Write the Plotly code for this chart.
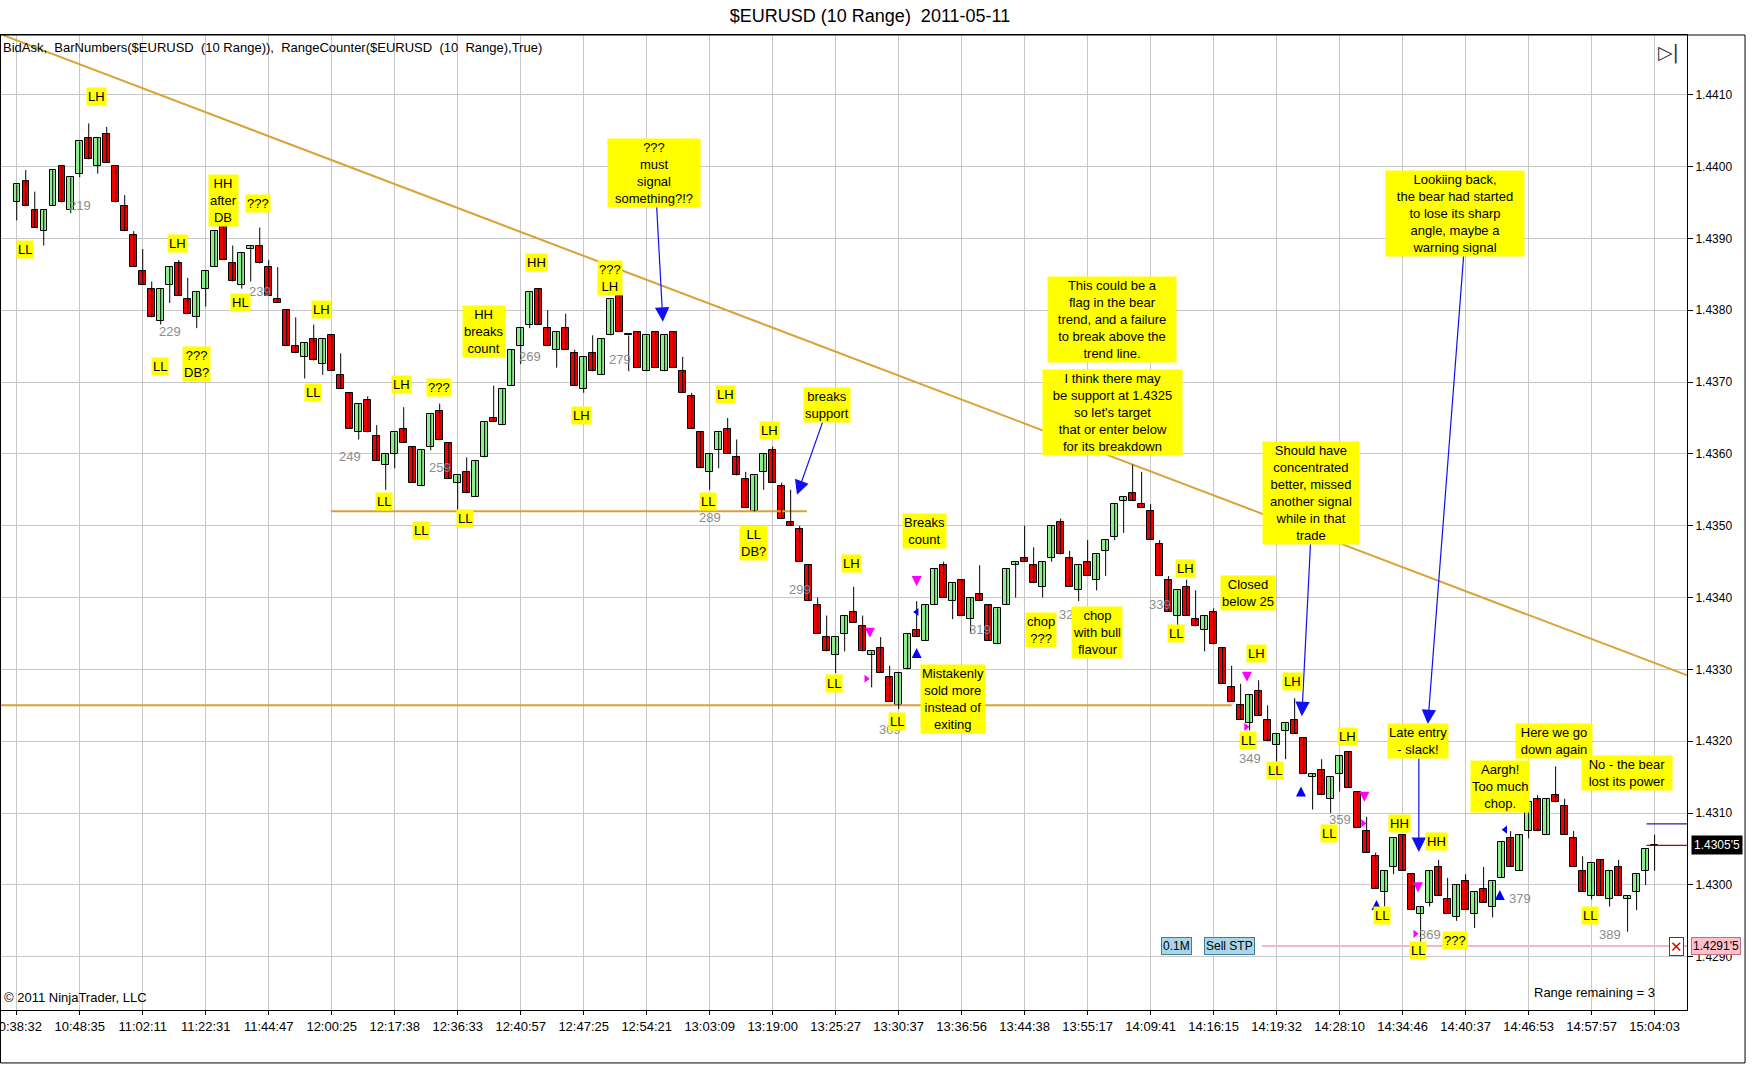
import plotly.graph_objects as go

# Data: 10-tick range bars, bar numbers 212..394
first_bar = 212
opens = [
    1.43950, 1.43980, 1.43940, 1.43910, 1.43945, 1.44000, 1.43940, 1.43990, 1.44040, 1.44000,
    1.44045, 1.44000, 1.43945, 1.43905, 1.43855, 1.43830, 1.43785, 1.43835, 1.43865, 1.43815,
    1.43790, 1.43830, 1.43860, 1.43920, 1.43865, 1.43835, 1.43885, 1.43890, 1.43860, 1.43815,
    1.43800, 1.43750, 1.43735, 1.43760, 1.43725, 1.43765, 1.43710, 1.43685, 1.43630, 1.43675,
    1.43625, 1.43585, 1.43600, 1.43635, 1.43610, 1.43555, 1.43610, 1.43660, 1.43615, 1.43560,
    1.43575, 1.43540, 1.43595, 1.43650, 1.43640, 1.43695, 1.43750, 1.43780, 1.43830, 1.43775,
    1.43745, 1.43775, 1.43740, 1.43690, 1.43740, 1.43710, 1.43765, 1.43820, 1.43765, 1.43770,
    1.43715, 1.43770, 1.43715, 1.43770, 1.43715, 1.43680, 1.43630, 1.43575, 1.43605, 1.43635,
    1.43595, 1.43565, 1.43520, 1.43575, 1.43605, 1.43555, 1.43505, 1.43495, 1.43445, 1.43390,
    1.43345, 1.43320, 1.43350, 1.43380, 1.43360, 1.43320, 1.43330, 1.43290, 1.43250, 1.43300,
    1.43355, 1.43340, 1.43390, 1.43445, 1.43395, 1.43425, 1.43370, 1.43405, 1.43390, 1.43335,
    1.43390, 1.43445, 1.43455, 1.43445, 1.43415, 1.43455, 1.43505, 1.43455, 1.43410, 1.43450,
    1.43425, 1.43465, 1.43485, 1.43535, 1.43545, 1.43530, 1.43520, 1.43475, 1.43425, 1.43375,
    1.43415, 1.43370, 1.43355, 1.43380, 1.43330, 1.43275, 1.43250, 1.43225, 1.43270, 1.43230,
    1.43195, 1.43215, 1.43230, 1.43205, 1.43150, 1.43160, 1.43120, 1.43155, 1.43185, 1.43130,
    1.43075, 1.43040, 1.42990, 1.43025, 1.43070, 1.43015, 1.42960, 1.42975, 1.43025, 1.42980,
    1.42955, 1.43005, 1.42960, 1.42995, 1.42970, 1.43010, 1.43065, 1.43020, 1.43075, 1.43120,
    1.43070, 1.43125, 1.43110, 1.43065, 1.43020, 1.42985, 1.43035, 1.42980, 1.43025, 1.42980,
    1.42990, 1.43020, 1.43055,
]
highs = [
    1.43975, 1.43995, 1.43965, 1.43940, 1.43995, 1.44000, 1.43985, 1.44035, 1.44060, 1.44040,
    1.44055, 1.44000, 1.43960, 1.43910, 1.43885, 1.43840, 1.43830, 1.43860, 1.43870, 1.43845,
    1.43825, 1.43855, 1.43910, 1.43920, 1.43890, 1.43880, 1.43890, 1.43915, 1.43870, 1.43860,
    1.43800, 1.43790, 1.43755, 1.43780, 1.43760, 1.43765, 1.43740, 1.43685, 1.43670, 1.43680,
    1.43640, 1.43600, 1.43630, 1.43665, 1.43610, 1.43605, 1.43655, 1.43670, 1.43615, 1.43570,
    1.43595, 1.43590, 1.43645, 1.43695, 1.43690, 1.43745, 1.43775, 1.43825, 1.43830, 1.43800,
    1.43770, 1.43795, 1.43745, 1.43735, 1.43765, 1.43760, 1.43815, 1.43820, 1.43765, 1.43770,
    1.43765, 1.43770, 1.43765, 1.43770, 1.43735, 1.43685, 1.43630, 1.43600, 1.43630, 1.43650,
    1.43620, 1.43575, 1.43570, 1.43600, 1.43610, 1.43560, 1.43550, 1.43500, 1.43445, 1.43400,
    1.43375, 1.43345, 1.43375, 1.43415, 1.43375, 1.43325, 1.43345, 1.43305, 1.43295, 1.43350,
    1.43395, 1.43390, 1.43440, 1.43450, 1.43420, 1.43425, 1.43400, 1.43445, 1.43390, 1.43385,
    1.43440, 1.43450, 1.43500, 1.43470, 1.43450, 1.43500, 1.43510, 1.43465, 1.43445, 1.43480,
    1.43460, 1.43480, 1.43530, 1.43540, 1.43585, 1.43575, 1.43530, 1.43480, 1.43430, 1.43410,
    1.43425, 1.43410, 1.43375, 1.43385, 1.43330, 1.43305, 1.43280, 1.43265, 1.43285, 1.43250,
    1.43210, 1.43225, 1.43260, 1.43205, 1.43155, 1.43175, 1.43150, 1.43180, 1.43185, 1.43130,
    1.43095, 1.43045, 1.43020, 1.43065, 1.43070, 1.43015, 1.42970, 1.43020, 1.43035, 1.43010,
    1.43000, 1.43015, 1.42990, 1.43025, 1.43005, 1.43060, 1.43075, 1.43070, 1.43115, 1.43125,
    1.43120, 1.43165, 1.43120, 1.43075, 1.43040, 1.43030, 1.43035, 1.43020, 1.43035, 1.42985,
    1.43015, 1.43050, 1.43070,
]
lows = [
    1.43925, 1.43945, 1.43915, 1.43890, 1.43945, 1.43950, 1.43935, 1.43985, 1.44010, 1.43990,
    1.44005, 1.43950, 1.43910, 1.43860, 1.43835, 1.43790, 1.43780, 1.43810, 1.43820, 1.43795,
    1.43775, 1.43805, 1.43860, 1.43870, 1.43840, 1.43830, 1.43840, 1.43865, 1.43820, 1.43810,
    1.43750, 1.43740, 1.43705, 1.43730, 1.43710, 1.43715, 1.43690, 1.43635, 1.43620, 1.43630,
    1.43590, 1.43550, 1.43580, 1.43615, 1.43560, 1.43555, 1.43605, 1.43620, 1.43565, 1.43520,
    1.43545, 1.43540, 1.43595, 1.43645, 1.43640, 1.43695, 1.43725, 1.43775, 1.43780, 1.43750,
    1.43720, 1.43745, 1.43695, 1.43685, 1.43715, 1.43710, 1.43765, 1.43770, 1.43715, 1.43720,
    1.43715, 1.43720, 1.43715, 1.43720, 1.43685, 1.43635, 1.43580, 1.43550, 1.43580, 1.43600,
    1.43570, 1.43525, 1.43520, 1.43550, 1.43560, 1.43510, 1.43500, 1.43450, 1.43395, 1.43350,
    1.43325, 1.43295, 1.43325, 1.43365, 1.43325, 1.43275, 1.43295, 1.43255, 1.43245, 1.43300,
    1.43345, 1.43340, 1.43390, 1.43400, 1.43370, 1.43375, 1.43350, 1.43395, 1.43340, 1.43335,
    1.43390, 1.43400, 1.43450, 1.43420, 1.43400, 1.43450, 1.43460, 1.43415, 1.43395, 1.43430,
    1.43410, 1.43430, 1.43480, 1.43490, 1.43535, 1.43525, 1.43480, 1.43430, 1.43380, 1.43360,
    1.43375, 1.43360, 1.43325, 1.43335, 1.43280, 1.43255, 1.43230, 1.43215, 1.43235, 1.43200,
    1.43160, 1.43175, 1.43210, 1.43155, 1.43105, 1.43125, 1.43100, 1.43130, 1.43135, 1.43080,
    1.43045, 1.42995, 1.42970, 1.43015, 1.43020, 1.42965, 1.42920, 1.42970, 1.42985, 1.42960,
    1.42950, 1.42965, 1.42940, 1.42975, 1.42955, 1.43010, 1.43025, 1.43020, 1.43065, 1.43075,
    1.43070, 1.43115, 1.43070, 1.43025, 1.42990, 1.42980, 1.42985, 1.42970, 1.42985, 1.42935,
    1.42965, 1.43000, 1.43020,
]
closes = [
    1.43975, 1.43945, 1.43915, 1.43940, 1.43995, 1.43950, 1.43985, 1.44035, 1.44010, 1.44040,
    1.44005, 1.43950, 1.43910, 1.43860, 1.43835, 1.43790, 1.43830, 1.43860, 1.43820, 1.43795,
    1.43825, 1.43855, 1.43910, 1.43870, 1.43840, 1.43880, 1.43890, 1.43865, 1.43820, 1.43810,
    1.43750, 1.43740, 1.43755, 1.43730, 1.43760, 1.43715, 1.43690, 1.43635, 1.43670, 1.43630,
    1.43590, 1.43600, 1.43630, 1.43615, 1.43560, 1.43605, 1.43655, 1.43620, 1.43565, 1.43570,
    1.43545, 1.43590, 1.43645, 1.43645, 1.43690, 1.43745, 1.43775, 1.43825, 1.43780, 1.43750,
    1.43770, 1.43745, 1.43695, 1.43735, 1.43715, 1.43760, 1.43815, 1.43770, 1.43765, 1.43720,
    1.43765, 1.43720, 1.43765, 1.43720, 1.43685, 1.43635, 1.43580, 1.43600, 1.43630, 1.43600,
    1.43570, 1.43525, 1.43570, 1.43600, 1.43560, 1.43510, 1.43500, 1.43450, 1.43395, 1.43350,
    1.43325, 1.43345, 1.43375, 1.43365, 1.43325, 1.43325, 1.43295, 1.43255, 1.43295, 1.43350,
    1.43345, 1.43390, 1.43440, 1.43400, 1.43420, 1.43375, 1.43400, 1.43395, 1.43340, 1.43385,
    1.43440, 1.43450, 1.43450, 1.43420, 1.43450, 1.43500, 1.43460, 1.43415, 1.43445, 1.43430,
    1.43460, 1.43480, 1.43530, 1.43540, 1.43535, 1.43525, 1.43480, 1.43430, 1.43380, 1.43410,
    1.43375, 1.43360, 1.43375, 1.43335, 1.43280, 1.43255, 1.43230, 1.43265, 1.43235, 1.43200,
    1.43210, 1.43225, 1.43210, 1.43155, 1.43155, 1.43125, 1.43150, 1.43180, 1.43135, 1.43080,
    1.43045, 1.42995, 1.43020, 1.43065, 1.43020, 1.42965, 1.42970, 1.43020, 1.42985, 1.42960,
    1.43000, 1.42965, 1.42990, 1.42975, 1.43005, 1.43060, 1.43025, 1.43070, 1.43115, 1.43075,
    1.43120, 1.43115, 1.43070, 1.43025, 1.42990, 1.43030, 1.42985, 1.43020, 1.42985, 1.42985,
    1.43015, 1.43050, 1.43055,
]

time_labels = ['10:38:32', '10:48:35', '11:02:11', '11:22:31', '11:44:47', '12:00:25',
               '12:17:38', '12:36:33', '12:40:57', '12:47:25', '12:54:21', '13:03:09',
               '13:19:00', '13:25:27', '13:30:37', '13:36:56', '13:44:38', '13:55:17',
               '14:09:41', '14:16:15', '14:19:32', '14:28:10', '14:34:46', '14:40:37',
               '14:46:53', '14:57:57', '15:04:03']
numbered_bars = [219, 229, 239, 249, 259, 269, 279, 289, 299, 309, 319, 329, 339, 349, 359, 369, 379, 389]

# drawn lines (bar, price)
trend_x = [210.0, 398.0]
trend_y = [1.44185, 1.43290]
support1_x = [246.9, 299.8]
support1_y = [1.43520, 1.43520]
support2_x = [210.0, 347.0]
support2_y = [1.43250, 1.43250]
stop_price = 1.42915
last_price = 1.43055
upper_price = 1.43085

# yellow chart notes (text, bar, price)
notes = [
    ("LH", 220.9, 1.44097), ("LL", 212.9, 1.43884), ("HH<br>after<br>DB", 235.0, 1.43952),
    ("???", 238.8, 1.43949), ("LH", 229.9, 1.43893), ("HL", 236.9, 1.43811),
    ("LL", 227.9, 1.43722), ("???<br>DB?", 232.0, 1.43725), ("LH", 245.9, 1.43801),
    ("LL", 244.9, 1.43685), ("LH", 254.8, 1.43696), ("???", 258.9, 1.43693),
    ("LL", 252.8, 1.43534), ("LL", 256.9, 1.43493), ("LL", 261.8, 1.43510),
    ("HH<br>breaks<br>count", 263.9, 1.43770), ("HH", 269.8, 1.43867), ("???<br>LH", 277.9, 1.43845),
    ("LH", 274.8, 1.43654), ("LH", 290.8, 1.43683), ("LL", 288.8, 1.43534),
    ("LH", 295.7, 1.43632), ("LL<br>DB?", 293.9, 1.43476), ("Breaks<br>count", 312.9, 1.43492),
    ("LH", 304.8, 1.43447), ("LL", 302.8, 1.43280), ("LL", 309.8, 1.43228),
    ("Mistakenly<br>sold more<br>instead of<br>exiting", 316.0, 1.43259),
    ("chop<br>???", 325.8, 1.43355), ("chop<br>with bull<br>flavour", 332.0, 1.43352),
    ("This could be a<br>flag in the bear<br>trend, and a failure<br>to break above the<br>trend line.", 333.7, 1.43787),
    ("I think there may<br>be support at 1.4325<br>so let's target<br>that or enter below<br>for its breakdown", 333.8, 1.43658),
    ("LH", 341.9, 1.43441), ("LL", 340.8, 1.43350), ("Closed<br>below 25", 348.8, 1.43406),
    ("LH", 349.8, 1.43322), ("LH", 353.8, 1.43283), ("LL", 348.8, 1.43201),
    ("LL", 351.8, 1.43159), ("LH", 359.9, 1.43207), ("LL", 357.8, 1.43071),
    ("HH", 365.7, 1.43086), ("HH", 369.8, 1.43060), ("LL", 363.7, 1.42957),
    ("LL", 367.7, 1.42909), ("???", 371.8, 1.42923), ("Aargh!<br>Too much<br>chop.", 376.8, 1.43137),
    ("Here we go<br>down again", 382.8, 1.43201), ("No - the bear<br>lost its power", 390.9, 1.43156),
    ("LL", 386.8, 1.42957),
]
# notes with a blue arrow: (text, bar, price, tail bar, tail price, tip bar, tip price)
arrow_notes = [
    ("???<br>must<br>signal<br>something?!?", 282.8, 1.43991, 283.1, 1.43946, 283.8, 1.43784),
    ("breaks<br>support", 302.0, 1.43668, 301.6, 1.43646, 298.7, 1.43543),
    ("Should have<br>concentrated<br>better, missed<br>another signal<br>while in that<br>trade", 355.8, 1.43545, 355.8, 1.43484, 354.8, 1.43235),
    ("Lookiing back,<br>the bear had started<br>to lose its sharp<br>angle, maybe a<br>warning signal", 371.8, 1.43934, 372.8, 1.43879, 368.8, 1.43224),
    ("Late entry<br>- slack!", 367.7, 1.43200, 367.8, 1.43178, 367.8, 1.43046),
]
# fixed box widths of the wider notes (px)
note_widths = {
    "This could be a": 126, "I think there may": 137, "Lookiing back,": 136,
    "???<br>must": 90, "Should have": 94, "No - the bear": 88, "Here we go": 74,
}

# execution markers
sell_x = [306.8, 312.0, 348.7, 361.75, 367.7]
sell_y = [1.43344, 1.43416, 1.43283, 1.43116, 1.42990]
buy_x = [312.0, 354.7, 363.1, 376.8]
buy_y = [1.43330, 1.43137, 1.42979, 1.42993]
exit_x = [312.0, 377.4]
exit_y = [1.43380, 1.43077]
fill_x = [306.4, 348.6, 361.6, 367.4]
fill_y = [1.43287, 1.43220, 1.43086, 1.42932]

FONT = 'Liberation Sans, Arial, sans-serif'
bars = list(range(first_bar, first_bar + len(opens)))
x_lo, x_hi = 210.14, 397.6

# Candles
wick_x, wick_y = [], []
for b, h, l in zip(bars, highs, lows):
    wick_x += [b, b, None]
    wick_y += [l, h, None]

body_base = [min(o, c) for o, c in zip(opens, closes)]
body_h = [max(abs(c - o), 0.000012) for o, c in zip(opens, closes)]
body_col = ['#90EE90' if c > o else ('#EE0000' if c < o else '#000000') for o, c in zip(opens, closes)]

fig = go.Figure()

for lx, ly in [(trend_x, trend_y), (support1_x, support1_y), (support2_x, support2_y)]:
    fig.add_trace(go.Scatter(x=lx, y=ly, mode='lines', line=dict(color='#D8A236', width=2),
                             hoverinfo='skip', showlegend=False))
fig.add_trace(go.Scatter(x=[350.4, x_hi], y=[stop_price, stop_price], mode='lines',
                         line=dict(color='#F4B8C4', width=2), hoverinfo='skip', showlegend=False))
fig.add_trace(go.Scatter(x=[393.1, x_hi], y=[upper_price, upper_price], mode='lines',
                         line=dict(color='#2020B0', width=1.2), hoverinfo='skip', showlegend=False))
fig.add_trace(go.Scatter(x=[393.1, x_hi], y=[last_price, last_price], mode='lines',
                         line=dict(color='#C00000', width=1.2), hoverinfo='skip', showlegend=False))

fig.add_trace(go.Scatter(x=wick_x, y=wick_y, mode='lines', line=dict(color='black', width=1),
                         hoverinfo='skip', showlegend=False))
fig.add_trace(go.Bar(x=bars, y=body_h, base=body_base, width=0.72,
                     marker=dict(color=body_col, line=dict(color='black', width=1)),
                     showlegend=False))

fig.add_trace(go.Scatter(x=sell_x, y=sell_y, mode='markers', showlegend=False,
                         marker=dict(symbol='arrow-down', size=10, color='#FF00FF')))
fig.add_trace(go.Scatter(x=buy_x, y=buy_y, mode='markers', showlegend=False,
                         marker=dict(symbol='arrow-up', size=10, color='#0000FF')))
fig.add_trace(go.Scatter(x=exit_x, y=exit_y, mode='markers', showlegend=False,
                         marker=dict(symbol='triangle-left', size=7, color='#0000FF')))
fig.add_trace(go.Scatter(x=fill_x, y=fill_y, mode='markers', showlegend=False,
                         marker=dict(symbol='triangle-right', size=7, color='#FF00FF')))

ann = []
# bar numbers
for n in numbered_bars:
    ann.append(dict(x=n, y=lows[n - first_bar], text=str(n), showarrow=False, yshift=-28,
                    font=dict(family=FONT, size=13, color='#8C8C8C')))
# arrows first so the notes sit on top
for t, bx, by, tx, ty, hx, hy in arrow_notes:
    ann.append(dict(x=hx, y=hy, ax=tx, ay=ty, axref='x', ayref='y', text='', showarrow=True,
                    arrowhead=2, arrowsize=2.4, arrowwidth=1.2, arrowcolor='#1010F0'))
for t, bx, by in notes + [(a[0], a[1], a[2]) for a in arrow_notes]:
    a = dict(x=bx, y=by, text=t, showarrow=False, bgcolor='#FFFF00', borderpad=1,
             font=dict(family=FONT, size=13, color='black'))
    for key, w in note_widths.items():
        if t.startswith(key):
            a['width'] = w
    ann.append(a)

# chart trader order tags
ann.append(dict(x=340.9, y=stop_price, text='0.1M', showarrow=False, bgcolor='#A9D6E8',
                bordercolor='#4A7A90', borderwidth=1, borderpad=1,
                font=dict(family=FONT, size=12, color='black')))
ann.append(dict(x=346.8, y=stop_price, text='Sell STP', showarrow=False, bgcolor='#A9D6E8',
                bordercolor='#4A7A90', borderwidth=1, borderpad=1,
                font=dict(family=FONT, size=12, color='black')))
ann.append(dict(x=1, xref='paper', y=stop_price, xanchor='right', xshift=-3, text='✕',
                showarrow=False, bgcolor='white', bordercolor='#E00000', borderwidth=1, borderpad=0,
                font=dict(family=FONT, size=15, color='#E00000')))
# right axis tags
ann.append(dict(x=1, xref='paper', y=last_price, xanchor='left', xshift=4, text="1.4305'5",
                showarrow=False, bgcolor='black', borderpad=2,
                font=dict(family=FONT, size=12, color='white')))
ann.append(dict(x=1, xref='paper', y=stop_price, xanchor='left', xshift=4, text="1.4291'5",
                showarrow=False, bgcolor='#FFC0CB', bordercolor='#C07080', borderwidth=1, borderpad=1,
                font=dict(family=FONT, size=12, color='black')))
# panel texts
ann.append(dict(x=0, xref='paper', y=1, yref='paper', xanchor='left', yanchor='top', xshift=1, yshift=-3,
                text='BidAsk,  BarNumbers($EURUSD  (10 Range)),  RangeCounter($EURUSD  (10  Range),True)',
                showarrow=False, font=dict(family=FONT, size=13, color='black')))
ann.append(dict(x=0, xref='paper', y=0, yref='paper', xanchor='left', yanchor='bottom', xshift=2, yshift=3,
                text='© 2011 NinjaTrader, LLC', showarrow=False,
                font=dict(family=FONT, size=13, color='black')))
ann.append(dict(x=1, xref='paper', y=0, yref='paper', xanchor='right', yanchor='bottom', xshift=-30, yshift=8,
                text='Range remaining = 3', showarrow=False,
                font=dict(family=FONT, size=13, color='black')))
ann.append(dict(x=1, xref='paper', y=1, yref='paper', xanchor='right', yanchor='top', xshift=-6, yshift=-4,
                text='▷|', showarrow=False, font=dict(family='DejaVu Sans', size=19, color='#333333')))

fig.update_layout(
    width=1752, height=1065,
    title=dict(text='$EURUSD (10 Range)  2011-05-11', x=0.4966, xref='container', y=0.985,
               yanchor='middle', font=dict(family=FONT, size=18, color='black')),
    margin=dict(l=0, r=65, t=35, b=55, autoexpand=False),
    plot_bgcolor='white', paper_bgcolor='white',
    barmode='overlay', bargap=0, showlegend=False, hovermode=False,
    annotations=ann,
    # outer panel frame around plot and price scale
    shapes=[dict(type='rect', xref='paper', yref='paper', x0=0.0003, x1=1.0344, y0=-0.0543, y1=1,
                 line=dict(color='black', width=1))],
    xaxis=dict(range=[x_lo, x_hi], tickvals=[first_bar + 7 * i for i in range(len(time_labels))],
               ticktext=time_labels, showgrid=True, gridcolor='#C8C8C8', gridwidth=1,
               zeroline=False, showline=True, linecolor='black', mirror=True, automargin=False,
               ticks='outside', ticklen=4, tickcolor='black', ticklabeloverflow='allow',
               tickfont=dict(family=FONT, size=13, color='black')),
    yaxis=dict(range=[1.42826, 1.44183], side='right', dtick=0.001, tick0=1.429, tickformat='.4f',
               showgrid=True, gridcolor='#C8C8C8', gridwidth=1, zeroline=False, automargin=False,
               showline=True, linecolor='black', mirror=True, ticks='outside', ticklen=5,
               tickcolor='black', tickfont=dict(family=FONT, size=12, color='black')),
)

fig.write_html('out.html', config={'displayModeBar': False},
               post_script="document.body.style.margin='0';")
